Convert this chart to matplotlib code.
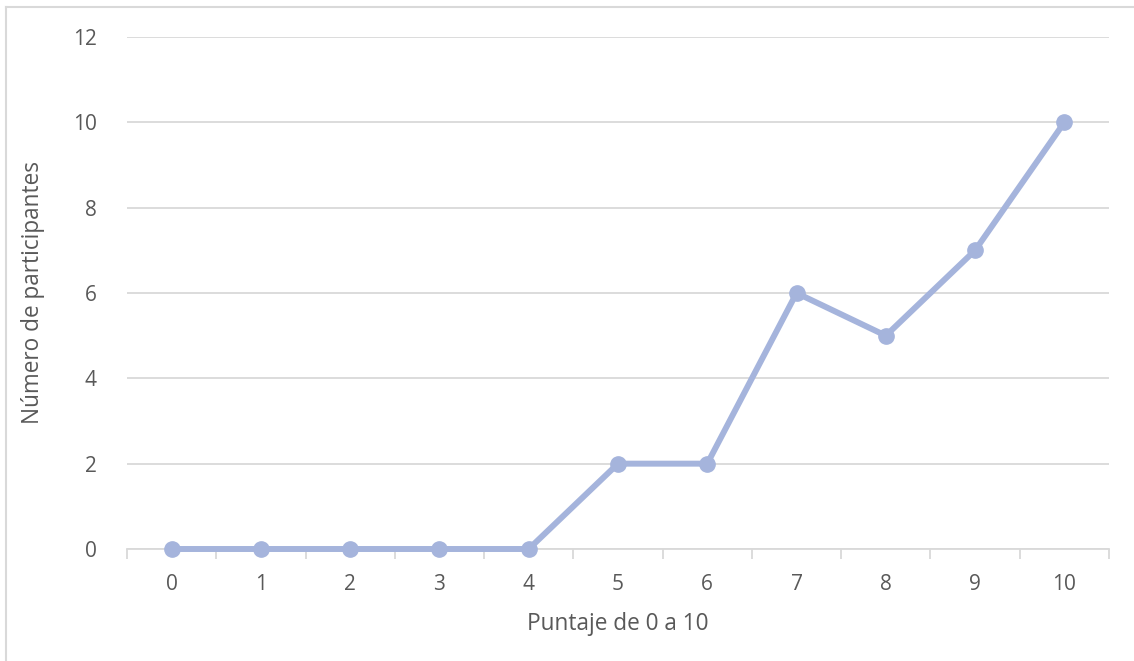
import matplotlib.pyplot as plt
import numpy as np
from matplotlib.lines import Line2D

# datos
puntaje = [0, 1, 2, 3, 4, 5, 6, 7, 8, 9, 10]
participantes = [0, 0, 0, 0, 0, 2, 2, 6, 5, 7, 10]
y_ticks = [0, 2, 4, 6, 8, 10, 12]

gris = '#d9d9d9'
texto = '#595959'
azul = '#a5b4dc'

plt.rcParams['font.family'] = ['Open Sans', 'DejaVu Sans']

fig = plt.figure(figsize=(11.34, 6.61), dpi=100)
ax = fig.add_axes([127/1134, 1 - 549/661, (1109 - 127)/1134, (549 - 37)/661])

ax.plot(puntaje, participantes, color=azul, lw=4.3, marker='o', ms=11,
        mfc=azul, mec=azul, solid_joinstyle='round', zorder=3, clip_on=False)

ax.set_xlim(-0.5, 10.5)
ax.set_ylim(0, 12)
ax.set_yticks(y_ticks)
ax.yaxis.grid(True, color=gris, lw=1.3)
ax.set_axisbelow(True)

# etiquetas en el centro de cada categoria, marcas en los bordes
ax.set_xticks(puntaje)
ax.set_xticklabels([str(p) for p in puntaje])
ax.set_xticks(np.arange(-0.5, 11, 1), minor=True)
ax.tick_params(axis='x', which='major', length=0, pad=18, labelsize=15, labelcolor=texto)
ax.tick_params(axis='x', which='minor', length=7, width=1.3, color=gris)
ax.tick_params(axis='y', length=0, pad=22, labelsize=15, labelcolor=texto)

for s in ['top', 'right', 'left']:
    ax.spines[s].set_visible(False)
ax.spines['bottom'].set_color(gris)
ax.spines['bottom'].set_linewidth(1.3)

ax.set_xlabel('Puntaje de 0 a 10', fontsize=16.3, color=texto, labelpad=12)
ax.set_ylabel('Número de participantes', fontsize=16.3, color=texto, labelpad=20)

# borde exterior del grafico
fig.add_artist(Line2D([6/1134, 6/1134], [0, 1 - 7/661], color=gris, lw=1.5, transform=fig.transFigure))
fig.add_artist(Line2D([6/1134, 1], [1 - 7/661, 1 - 7/661], color=gris, lw=1.5, transform=fig.transFigure))

fig.savefig('out.png', dpi=100)
